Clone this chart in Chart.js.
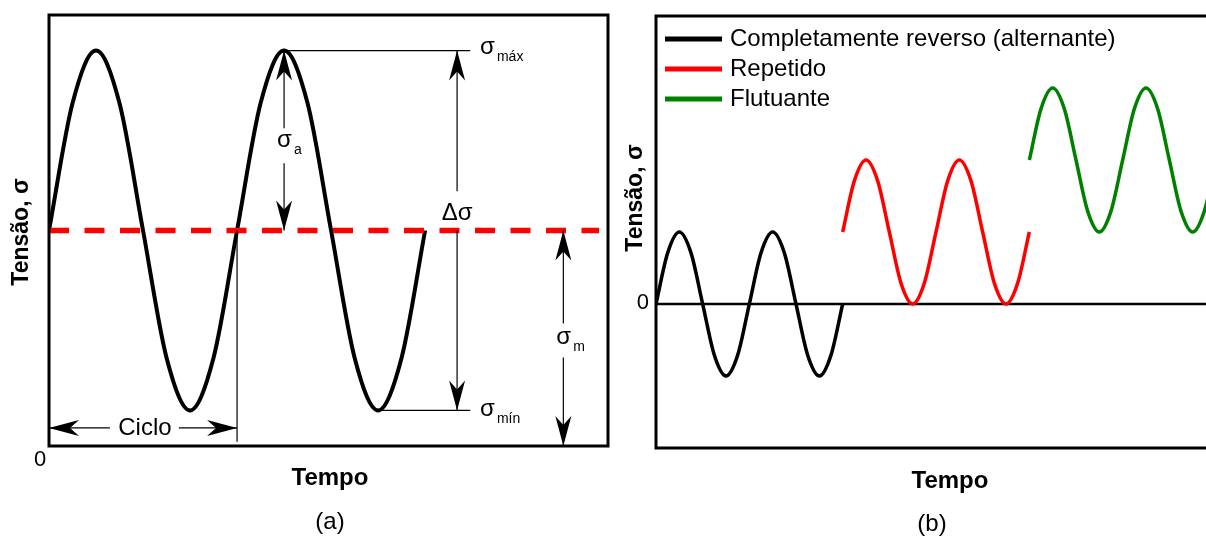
<!DOCTYPE html>
<html>
<head>
<meta charset="utf-8">
<script src="https://cdn.jsdelivr.net/npm/chart.js@4.4.0/dist/chart.umd.min.js"></script>
<style>
  html, body { margin: 0; padding: 0; background: #fff; overflow: hidden; }
  #chartA { position: absolute; left: 0; top: 0; }
  #chartB { position: absolute; left: 620px; top: 0; }
</style>
</head>
<body>
<canvas id="chartA" width="620" height="537"></canvas>
<canvas id="chartB" width="620" height="537"></canvas>
<script>
// Panel (a): stress cycle read at eighth-period steps
const timeA = [0, 0.5, 1, 1.5, 2, 2.5, 3, 3.5, 4, 4.5, 5, 5.5, 6, 6.5, 7, 7.5, 8];
const stressA = [1.0, 1.59, 1.835, 1.59, 1.0, 0.41, 0.165, 0.41, 1.0,
                 1.59, 1.835, 1.59, 1.0, 0.41, 0.165, 0.41, 1.0];
// dashed mean stress line
const meanTime = [0, 11.7];
const meanStress = [1.0, 1.0];

// Panel (b): three kinds of loading
const timeReversed = [0, 0.5, 1, 1.5, 2, 2.5, 3, 3.5, 4, 4.5, 5, 5.5, 6, 6.5, 7, 7.5, 8];
const stressReversed = [0, 0.71, 1, 0.71, 0, -0.71, -1, -0.71, 0,
                        0.71, 1, 0.71, 0, -0.71, -1, -0.71, 0];
const timeRepeated = [8, 8.5, 9, 9.5, 10, 10.5, 11, 11.5, 12, 12.5, 13, 13.5, 14, 14.5, 15, 15.5, 16];
const stressRepeated = [1, 1.71, 2, 1.71, 1, 0.29, 0, 0.29, 1,
                        1.71, 2, 1.71, 1, 0.29, 0, 0.29, 1];
const timeFluctuating = [16, 16.5, 17, 17.5, 18, 18.5, 19, 19.5, 20, 20.5, 21, 21.5, 22, 22.5, 23, 23.5, 24];
const stressFluctuating = [2, 2.71, 3, 2.71, 2, 1.29, 1, 1.29, 2,
                           2.71, 3, 2.71, 2, 1.29, 1, 1.29, 2];
const seriesLabels = ['Completamente reverso (alternante)', 'Repetido', 'Flutuante'];

const FONT = '"Liberation Sans", Arial, sans-serif';

function toPoints(xs, ys) {
  return xs.map((x, i) => ({ x: x, y: ys[i] }));
}

// filled "stealth" arrow head pointing along (dx, dy)
function arrowHead(ctx, tx, ty, dx, dy) {
  const len = 30, half = 8, notch = 9;
  const nx = -dy, ny = dx;
  const bx = tx - dx * len, by = ty - dy * len;
  ctx.beginPath();
  ctx.moveTo(tx, ty);
  ctx.lineTo(bx + nx * half, by + ny * half);
  ctx.lineTo(tx - dx * (len - notch), ty - dy * (len - notch));
  ctx.lineTo(bx - nx * half, by - ny * half);
  ctx.closePath();
  ctx.fill();
}

function line(ctx, x1, y1, x2, y2) {
  ctx.beginPath();
  ctx.moveTo(x1, y1);
  ctx.lineTo(x2, y2);
  ctx.stroke();
}

function sigmaLabel(ctx, x, y, sub) {
  ctx.textAlign = 'left';
  ctx.textBaseline = 'middle';
  ctx.font = '24px ' + FONT;
  ctx.fillText('σ', x, y);
  const w = ctx.measureText('σ').width;
  ctx.font = '14px ' + FONT;
  ctx.fillText(sub, x + w + 2, y + 10);
}

function text(ctx, str, x, y, font, align) {
  ctx.font = font;
  ctx.textAlign = align || 'center';
  ctx.textBaseline = 'middle';
  ctx.fillText(str, x, y);
}

function yTitle(ctx, x, y) {
  ctx.save();
  ctx.translate(x, y);
  ctx.rotate(-Math.PI / 2);
  text(ctx, 'Tensão, σ', 0, 0, 'bold 23px ' + FONT);
  ctx.restore();
}

// annotations of panel (a)
const annotateA = {
  id: 'annotateA',
  afterDraw(chart) {
    const ctx = chart.ctx;
    const a = chart.chartArea;
    const px = v => chart.scales.x.getPixelForValue(v);
    const py = v => chart.scales.y.getPixelForValue(v);
    const sMax = Math.max(...stressA), sMin = Math.min(...stressA), sMean = meanStress[0];
    const peakT = 5, troughT = 7, cycleT = 4;

    ctx.save();
    ctx.fillStyle = '#000';
    ctx.strokeStyle = '#000';

    // frame
    ctx.lineWidth = 3;
    ctx.strokeRect(a.left, a.top, a.right - a.left, a.bottom - a.top);

    ctx.lineWidth = 1.2;
    // leaders to σmáx and σmín
    line(ctx, px(peakT), py(sMax), px(8.96), py(sMax));
    line(ctx, px(troughT), py(sMin), px(8.96), py(sMin));

    // σa
    const xa = px(peakT), ya = py(1.41);
    line(ctx, xa, py(sMax), xa, ya - 14);
    line(ctx, xa, ya + 21, xa, py(sMean));
    arrowHead(ctx, xa, py(sMax), 0, -1);
    arrowHead(ctx, xa, py(sMean), 0, 1);
    sigmaLabel(ctx, xa - 7, ya - 2, 'a');

    // Δσ
    const xd = px(8.68), yd = py(1.08);
    line(ctx, xd, py(sMax), xd, yd - 22);
    line(ctx, xd, py(sMean), xd, py(sMin));
    arrowHead(ctx, xd, py(sMax), 0, -1);
    arrowHead(ctx, xd, py(sMin), 0, 1);
    text(ctx, 'Δσ', xd, yd, '24px ' + FONT);

    // σm
    const xm = px(10.94), ym = py(0.49);
    line(ctx, xm, py(sMean), xm, ym - 17);
    line(ctx, xm, ym + 17, xm, py(0));
    arrowHead(ctx, xm, py(sMean), 0, -1);
    arrowHead(ctx, xm, py(0), 0, 1);
    sigmaLabel(ctx, xm - 7, ym - 3, 'm');

    // σmáx / σmín labels
    sigmaLabel(ctx, px(9.17), py(sMax) - 3, 'máx');
    sigmaLabel(ctx, px(9.17), py(sMin) - 1, 'mín');

    // one cycle
    const yc = py(0.084), xc = px(2.04);
    line(ctx, px(cycleT), py(sMean), px(cycleT), py(0.02));
    line(ctx, px(0), yc, xc - 35, yc);
    line(ctx, xc + 34, yc, px(cycleT), yc);
    arrowHead(ctx, px(0), yc, -1, 0);
    arrowHead(ctx, px(cycleT), yc, 1, 0);
    text(ctx, 'Ciclo', xc, yc, '24px ' + FONT);

    // axis texts
    text(ctx, '0', 40, 460, '22px ' + FONT);
    text(ctx, 'Tempo', 330, 478, 'bold 24px ' + FONT);
    text(ctx, '(a)', 330, 522, '24px ' + FONT);
    yTitle(ctx, 22, 232);
    ctx.restore();
  }
};

// frame, zero line and legend of panel (b)
const annotateB = {
  id: 'annotateB',
  beforeDatasetsDraw(chart) {
    const ctx = chart.ctx;
    const a = chart.chartArea;
    const py = v => chart.scales.y.getPixelForValue(v);
    ctx.save();
    ctx.strokeStyle = '#000';
    ctx.lineWidth = 3;
    ctx.beginPath();
    ctx.moveTo(a.right + 20, a.top);
    ctx.lineTo(a.left, a.top);
    ctx.lineTo(a.left, a.bottom);
    ctx.lineTo(a.right + 20, a.bottom);
    ctx.stroke();
    ctx.lineWidth = 2.5;
    line(ctx, a.left, py(0), a.right + 20, py(0));
    ctx.restore();
  },
  afterDraw(chart) {
    const ctx = chart.ctx;
    const py = v => chart.scales.y.getPixelForValue(v);
    ctx.save();
    ctx.fillStyle = '#000';
    chart.data.datasets.forEach((ds, i) => {
      const y = 39 + i * 30;
      ctx.strokeStyle = ds.borderColor;
      ctx.lineWidth = 5;
      line(ctx, 45, y, 102, y);
      text(ctx, ds.label, 110, y, '24px ' + FONT, 'left');
    });
    text(ctx, '0', 29, py(0) - 1, '22px ' + FONT, 'right');
    text(ctx, 'Tempo', 330, 481, 'bold 24px ' + FONT);
    text(ctx, '(b)', 312, 524, '24px ' + FONT);
    yTitle(ctx, 16, 198);
    ctx.restore();
  }
};

new Chart(document.getElementById('chartA'), {
  type: 'line',
  data: {
    datasets: [{
      label: 'Tensão média',
      data: toPoints(meanTime, meanStress),
      borderColor: '#ff0000',
      borderWidth: 5.5,
      borderDash: [20, 15.5],
      pointRadius: 0
    }, {
      label: 'Tensão',
      data: toPoints(timeA, stressA),
      borderColor: '#000000',
      borderWidth: 4,
      pointRadius: 0,
      cubicInterpolationMode: 'monotone'
    }]
  },
  options: {
    responsive: false,
    animation: false,
    layout: { padding: { left: 49, top: 15, right: 12, bottom: 91 } },
    scales: {
      x: { type: 'linear', min: 0, max: 11.89, display: false },
      y: { type: 'linear', min: 0, max: 2, display: false }
    },
    plugins: { legend: { display: false }, tooltip: { enabled: false } }
  },
  plugins: [annotateA]
});

new Chart(document.getElementById('chartB'), {
  type: 'line',
  data: {
    datasets: [{
      label: seriesLabels[0],
      data: toPoints(timeReversed, stressReversed),
      borderColor: '#000000'
    }, {
      label: seriesLabels[1],
      data: toPoints(timeRepeated, stressRepeated),
      borderColor: '#ff0000'
    }, {
      label: seriesLabels[2],
      data: toPoints(timeFluctuating, stressFluctuating),
      borderColor: '#008000'
    }]
  },
  options: {
    responsive: false,
    animation: false,
    layout: { padding: { left: 36, top: 16, right: 24, bottom: 89 } },
    elements: {
      line: { borderWidth: 3.5, cubicInterpolationMode: 'monotone' },
      point: { radius: 0 }
    },
    scales: {
      x: { type: 'linear', min: 0, max: 24, display: false },
      y: { type: 'linear', min: -2, max: 4, display: false }
    },
    plugins: { legend: { display: false }, tooltip: { enabled: false } }
  },
  plugins: [annotateB]
});
</script>
</body>
</html>
